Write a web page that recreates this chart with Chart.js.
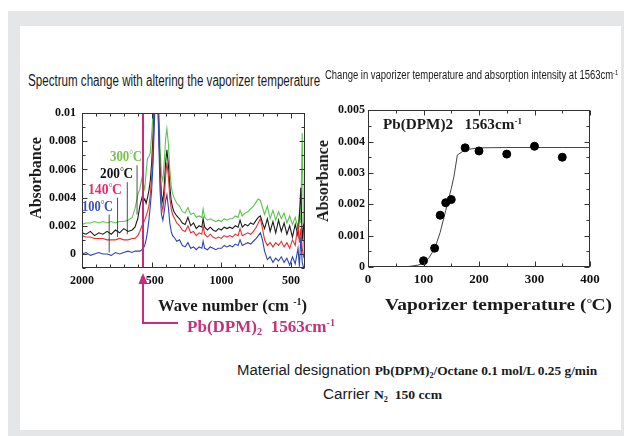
<!DOCTYPE html>
<html lang="en">
<head>
<meta charset="UTF-8" />
<title>Vaporizer temperature and absorbance</title>
<script src="https://cdn.jsdelivr.net/npm/chart.js"></script>
<style>
  body {
    margin: 0;
    width: 624px;
    height: 436px;
    position: relative;
    overflow: hidden;
    background: #fff;
    font-family: 'Liberation Sans', Arial, sans-serif;
  }
  #frame { position: absolute; left: 8px; top: 11px; width: 616px; height: 425px; background: #e5e6e8; }
  #panel { position: absolute; left: 20px; top: 26px; width: 601px; height: 404px; background: #fff; }
  canvas { position: absolute; }
  .t {
    position: absolute;
    white-space: nowrap;
    line-height: 1;
    transform-origin: 0 50%;
    transform: translateY(-50%);
    color: #1a1a1a;
  }
  .serif { font-family: 'Liberation Serif', 'Times New Roman', serif; font-weight: bold; }
  .sup { font-size: 0.6em; position: relative; top: -0.6em; }
  .sub { font-size: 0.6em; position: relative; top: 0.35em; }
  .rot { transform-origin: 50% 50%; transform: translate(-50%, -50%) rotate(-90deg); }
  .deg { font-weight: normal; font-size: 0.75em; position: relative; top: -0.25em; letter-spacing: -0.05em; }
</style>
</head>
<body>
  <div id="frame"></div>
  <div id="panel"></div>

  <canvas id="specChart" width="320" height="250" style="left:0;top:100px"></canvas>
  <canvas id="tempChart" width="324" height="250" style="left:300px;top:100px"></canvas>

  <div class="t" data-w="292" style="left:28px;top:81px;font-size:16px">Spectrum change with altering the vaporizer temperature</div>
  <div class="t" data-w="293" style="left:325px;top:75px;font-size:12.5px">Change in vaporizer temperature and absorption intensity at 1563cm<span class="sup">-1</span></div>

  <div class="t serif rot" style="left:36px;top:178px;font-size:16px">Absorbance</div>
  <div class="t serif rot" style="left:323px;top:181px;font-size:16px">Absorbance</div>

  <div class="t serif" data-w="149" style="left:158px;top:305px;font-size:17px">Wave number (cm <span class="sup">-1</span>)</div>
  <div class="t serif" data-w="227" style="left:385px;top:304px;font-size:17px">Vaporizer temperature (<span class="deg">°</span>C)</div>

  <div class="t serif" data-w="148" style="left:187px;top:327px;font-size:16px;color:#c4327a">Pb(DPM)<span class="sub">2</span>&nbsp;&nbsp;1563cm<span class="sup">-1</span></div>
  <div class="t serif" data-w="139" style="left:383px;top:124px;font-size:15px">Pb(DPM)2&nbsp;&nbsp;&nbsp;1563cm<span class="sup">-1</span></div>

  <div class="t serif" data-w="32" style="left:110px;top:157px;font-size:14px;color:#78c24e">300<span class="deg">°</span>C</div>
  <div class="t serif" data-w="33" style="left:100px;top:174px;font-size:14px;color:#111">200<span class="deg">°</span>C</div>
  <div class="t serif" data-w="34" style="left:88px;top:190px;font-size:14px;color:#e0306e">140<span class="deg">°</span>C</div>
  <div class="t serif" data-w="31" style="left:82px;top:207px;font-size:14px;color:#3d4fb5">100<span class="deg">°</span>C</div>

  <div class="t" data-w="360" style="left:237px;top:370px;font-size:14px">Material designation <span class="serif" style="font-size:12.5px">Pb(DPM)<span class="sub">2</span>/Octane 0.1 mol/L 0.25 g/min</span></div>
  <div class="t" data-w="119" style="left:323px;top:394px;font-size:14px">Carrier <span class="serif" style="font-size:12.5px">N<span class="sub">2</span>&nbsp;&nbsp;150 ccm</span></div>

<script>
  // ---- spectrum (left) ----
  const waveNumbers = [
    2000, 1970, 1940, 1910, 1880, 1850, 1820, 1790, 1760, 1730,
    1700, 1670, 1640, 1620, 1600, 1585, 1570, 1560, 1550, 1540,
    1530, 1520, 1510, 1500, 1490, 1480, 1470, 1465, 1460, 1450,
    1440, 1430, 1420, 1410, 1400, 1391, 1380, 1370, 1360, 1350,
    1340, 1320, 1300, 1280, 1260, 1240, 1220, 1200, 1180, 1160,
    1140, 1131, 1120, 1100, 1080, 1060, 1040, 1020, 1000, 980,
    960, 940, 920, 900, 880, 866, 850, 830, 810, 790,
    770, 750, 735, 720, 705, 690, 670, 650, 630, 610,
    590, 570, 550, 530, 510, 490, 470, 450, 440, 430,
    420, 410, 400
  ];
  const abs100 = [
    0.0000, 0.0001, -0.0001, 0.0000, 0.0001, 0.0000, 0.0000, -0.0001, 0.0001, 0.0000,
    0.0001, 0.0002, 0.0001, 0.0002, 0.0002, 0.0002, 0.0003, 0.0004, 0.0006, 0.0010,
    0.0016, 0.0024, 0.0034, 0.0046, 0.0065, 0.0095, 0.0125, 0.0130, 0.0120, 0.0085,
    0.0045, 0.0028, 0.0024, 0.0030, 0.0038, 0.0042, 0.0033, 0.0022, 0.0016, 0.0013,
    0.0012, 0.0009, 0.0010, 0.0006, 0.0005, 0.0008, 0.0004, 0.0005, 0.0003, 0.0005,
    0.0004, 0.0009, 0.0004, 0.0003, 0.0005, 0.0004, 0.0003, 0.0004, 0.0004, 0.0006,
    0.0005, 0.0006, 0.0005, 0.0007, 0.0006, 0.0010, 0.0006, 0.0007, 0.0008, 0.0007,
    0.0009, 0.0011, 0.0013, 0.0015, 0.0010, 0.0002, -0.0004, -0.0002, -0.0006, -0.0003,
    -0.0005, -0.0002, -0.0006, -0.0003, -0.0008, -0.0002, -0.0007, 0.0004, -0.0009, 0.0012,
    -0.0006, -0.0010, -0.0008
  ];
  const abs140 = [
    0.0013, 0.0012, 0.0012, 0.0011, 0.0011, 0.0011, 0.0010, 0.0010, 0.0010, 0.0011,
    0.0010, 0.0010, 0.0011, 0.0011, 0.0013, 0.0016, 0.0020, 0.0022, 0.0024, 0.0027,
    0.0030, 0.0034, 0.0042, 0.0055, 0.0075, 0.0105, 0.0130, 0.0130, 0.0125, 0.0090,
    0.0055, 0.0036, 0.0031, 0.0040, 0.0055, 0.0065, 0.0055, 0.0040, 0.0032, 0.0028,
    0.0026, 0.0022, 0.0020, 0.0017, 0.0016, 0.0020, 0.0015, 0.0016, 0.0013, 0.0015,
    0.0014, 0.0020, 0.0014, 0.0012, 0.0014, 0.0012, 0.0011, 0.0012, 0.0011, 0.0013,
    0.0012, 0.0013, 0.0012, 0.0014, 0.0013, 0.0018, 0.0013, 0.0014, 0.0015, 0.0014,
    0.0016, 0.0019, 0.0022, 0.0025, 0.0018, 0.0010, 0.0006, 0.0008, 0.0005, 0.0008,
    0.0006, 0.0009, 0.0005, 0.0008, 0.0004, 0.0010, 0.0006, 0.0022, 0.0008, 0.0018,
    0.0004, -0.0002, 0.0000
  ];
  const abs200 = [
    0.0015, 0.0014, 0.0016, 0.0013, 0.0015, 0.0014, 0.0016, 0.0014, 0.0017, 0.0015,
    0.0018, 0.0016, 0.0017, 0.0019, 0.0025, 0.0034, 0.0040, 0.0037, 0.0039, 0.0036,
    0.0040, 0.0045, 0.0052, 0.0065, 0.0085, 0.0110, 0.0130, 0.0130, 0.0128, 0.0095,
    0.0062, 0.0042, 0.0037, 0.0048, 0.0065, 0.0074, 0.0063, 0.0048, 0.0038, 0.0033,
    0.0030, 0.0027, 0.0025, 0.0022, 0.0021, 0.0026, 0.0020, 0.0022, 0.0018, 0.0020,
    0.0019, 0.0025, 0.0019, 0.0017, 0.0019, 0.0017, 0.0016, 0.0018, 0.0017, 0.0019,
    0.0018, 0.0019, 0.0018, 0.0020, 0.0019, 0.0024, 0.0019, 0.0021, 0.0020, 0.0022,
    0.0021, 0.0024, 0.0026, 0.0027, 0.0022, 0.0018, 0.0025, 0.0016, 0.0023, 0.0015,
    0.0024, 0.0016, 0.0022, 0.0014, 0.0020, 0.0012, 0.0021, 0.0013, 0.0027, 0.0047,
    0.0010, 0.0020, 0.0016
  ];
  const abs300 = [
    0.0021, 0.0022, 0.0022, 0.0023, 0.0022, 0.0023, 0.0022, 0.0023, 0.0022, 0.0023,
    0.0023, 0.0024, 0.0026, 0.0032, 0.0042, 0.0046, 0.0054, 0.0050, 0.0046, 0.0058,
    0.0068, 0.0069, 0.0072, 0.0085, 0.0100, 0.0120, 0.0130, 0.0130, 0.0130, 0.0110,
    0.0075, 0.0056, 0.0052, 0.0065, 0.0082, 0.0089, 0.0078, 0.0060, 0.0048, 0.0043,
    0.0040, 0.0036, 0.0034, 0.0030, 0.0029, 0.0033, 0.0028, 0.0029, 0.0026, 0.0027,
    0.0026, 0.0032, 0.0026, 0.0024, 0.0025, 0.0024, 0.0023, 0.0024, 0.0023, 0.0025,
    0.0024, 0.0025, 0.0025, 0.0027, 0.0026, 0.0031, 0.0027, 0.0029, 0.0030, 0.0032,
    0.0034, 0.0037, 0.0039, 0.0038, 0.0033, 0.0028, 0.0034, 0.0025, 0.0031, 0.0024,
    0.0030, 0.0025, 0.0029, 0.0022, 0.0027, 0.0021, 0.0026, 0.0018, 0.0030, 0.0022,
    0.0086, 0.0010, -0.0010
  ];
  const specXTicks = [2000, 1500, 1000, 500];
  const specXLabels = ['2000', '1500', '1000', '500'];
  const specYTicks = [0, 0.002, 0.004, 0.006, 0.008, 0.01];
  const specYLabels = ['0', '0.002', '0.004', '0.006', '0.008', '0.01'];
  const markedWave = 1563;
  // label leader lines: [wave number, from absorbance, to absorbance]
  const leaders = [[1605, 0.0063, 0.0028], [1675, 0.0051, 0.0014], [1745, 0.0040, 0.0012], [1805, 0.0028, 0.0001]];

  // ---- temperature (right) ----
  const tempPoints = [100, 120, 130, 140, 150, 175, 200, 250, 300, 350];
  const absPoints = [0.0002, 0.0006, 0.00165, 0.00205, 0.00215, 0.0038, 0.0037, 0.0036, 0.00385, 0.0035];
  const fitTemps = [55, 75, 90, 100, 110, 120, 130, 140, 150, 155, 161, 170, 180, 200, 250, 300, 350, 400];
  const fitAbs = [0, 0.00002, 0.00006, 0.00012, 0.0003, 0.00058, 0.0011, 0.0018, 0.0025, 0.0029, 0.00357, 0.00368, 0.00375, 0.0038, 0.00381, 0.00381, 0.00381, 0.00381];
  const tempXTicks = [0, 100, 200, 300, 400];
  const tempYTicks = [0, 0.001, 0.002, 0.003, 0.004, 0.005];
  const tempYLabels = ['0', '0.001', '0.002', '0.003', '0.004', '0.005'];

  const tickFont = { family: 'Liberation Serif', weight: 'bold', size: 12 };

  function range(from, to, step) {
    const out = [];
    for (let i = 0; from + i * step <= to + 1e-12; i++) out.push(+(from + i * step).toFixed(6));
    return out;
  }

  // frame box with inward tick marks on all four sides
  const boxPlugin = {
    id: 'box',
    afterDraw(chart, args, o) {
      const { ctx, chartArea: a } = chart;
      const x = chart.scales.x, y = chart.scales.y;
      ctx.save();
      ctx.strokeStyle = '#333';
      ctx.lineWidth = 1;
      const l = Math.round(a.left) + 0.5, t = Math.round(a.top) + 0.5;
      const r = Math.round(a.right) - 0.5, b = Math.round(a.bottom) - 0.5;
      ctx.strokeRect(l, t, r - l, b - t);
      ctx.beginPath();
      const xt = (v, len) => {
        const p = Math.round(x.getPixelForValue(v)) + 0.5;
        ctx.moveTo(p, b); ctx.lineTo(p, b - len);
        ctx.moveTo(p, t); ctx.lineTo(p, t + len);
      };
      const yt = (v, len) => {
        const p = Math.round(y.getPixelForValue(v)) + 0.5;
        ctx.moveTo(l, p); ctx.lineTo(l + len, p);
        ctx.moveTo(r, p); ctx.lineTo(r - len, p);
      };
      o.xMajor.forEach(v => xt(v, 5));
      o.xMinor.forEach(v => xt(v, 3));
      o.yMajor.forEach(v => yt(v, 5));
      o.yMinor.forEach(v => yt(v, 3));
      ctx.stroke();
      ctx.restore();
    }
  };

  // 1563 cm-1 marker, arrow and the label leader lines
  const markPlugin = {
    id: 'mark',
    afterDatasetsDraw(chart) {
      const { ctx, chartArea: a } = chart;
      const x = chart.scales.x, y = chart.scales.y;
      ctx.save();
      ctx.strokeStyle = '#222';
      ctx.lineWidth = 0.8;
      ctx.beginPath();
      leaders.forEach(([w, a1, a2]) => {
        const p = x.getPixelForValue(w);
        ctx.moveTo(p, y.getPixelForValue(a1));
        ctx.lineTo(p, y.getPixelForValue(a2));
      });
      ctx.stroke();

      const px = Math.round(x.getPixelForValue(markedWave));
      ctx.strokeStyle = '#c92a7a';
      ctx.fillStyle = '#c92a7a';
      ctx.lineWidth = 2;
      ctx.beginPath();
      ctx.moveTo(px, a.top);
      ctx.lineTo(px, a.bottom);
      ctx.stroke();
      const tip = a.bottom + 5;
      ctx.beginPath();
      ctx.moveTo(px, tip);
      ctx.lineTo(px - 4.5, tip + 11);
      ctx.lineTo(px + 4.5, tip + 11);
      ctx.closePath();
      ctx.fill();
      ctx.beginPath();
      ctx.moveTo(px, tip + 10);
      ctx.lineTo(px, 223);
      ctx.lineTo(178, 223);
      ctx.stroke();
      ctx.restore();
    }
  };

  const series = [
    { data: abs100, color: '#2b45b0' },
    { data: abs140, color: '#e53030' },
    { data: abs200, color: '#1a1a1a' },
    { data: abs300, color: '#5cc44e' }
  ];

  new Chart(document.getElementById('specChart'), {
    type: 'line',
    data: {
      datasets: series.map(s => ({
        data: waveNumbers.map((w, i) => ({ x: w, y: s.data[i] })),
        borderColor: s.color,
        borderWidth: 1.1,
        pointRadius: 0,
        tension: 0
      }))
    },
    options: {
      responsive: false,
      animation: false,
      events: [],
      layout: { padding: { left: 32, top: 9, right: 15, bottom: 62 } },
      plugins: {
        legend: { display: false },
        tooltip: { enabled: false },
        box: {
          xMajor: specXTicks,
          xMinor: range(500, 1900, 100).filter(v => !specXTicks.includes(v)),
          yMajor: specYTicks,
          yMinor: [-0.001, 0.001, 0.003, 0.005, 0.007, 0.009]
        }
      },
      scales: {
        x: {
          type: 'linear',
          reverse: true,
          min: 400,
          max: 2000,
          afterBuildTicks: s => { s.ticks = specXTicks.map(v => ({ value: v })); },
          afterFit: s => { s.height = 20; },
          grid: { display: false, drawTicks: false },
          border: { display: false },
          ticks: { font: tickFont, color: '#111', padding: 6, maxRotation: 0, autoSkip: false,
                   callback: v => specXLabels[specXTicks.indexOf(v)] }
        },
        y: {
          min: -0.001,
          max: 0.01,
          afterBuildTicks: s => { s.ticks = specYTicks.map(v => ({ value: v })); },
          afterFit: s => { s.width = 50; },
          grid: { display: false, drawTicks: false },
          border: { display: false },
          ticks: { font: tickFont, color: '#111', padding: 6,
                   callback: v => specYLabels[specYTicks.indexOf(v)] }
        }
      }
    },
    plugins: [boxPlugin, markPlugin]
  });

  new Chart(document.getElementById('tempChart'), {
    type: 'scatter',
    data: {
      datasets: [
        {
          data: tempPoints.map((t, i) => ({ x: t, y: absPoints[i] })),
          backgroundColor: '#000',
          borderColor: '#000',
          pointRadius: 4,
          showLine: false
        },
        {
          type: 'line',
          data: fitTemps.map((t, i) => ({ x: t, y: fitAbs[i] })),
          borderColor: '#444',
          borderWidth: 1,
          pointRadius: 0,
          tension: 0
        }
      ]
    },
    options: {
      responsive: false,
      animation: false,
      events: [],
      layout: { padding: { left: 18, top: 9, right: 34, bottom: 63 } },
      plugins: {
        legend: { display: false },
        tooltip: { enabled: false },
        box: {
          xMajor: tempXTicks,
          xMinor: [50, 150, 250, 350],
          yMajor: tempYTicks,
          yMinor: [0.0005, 0.0015, 0.0025, 0.0035, 0.0045]
        }
      },
      scales: {
        x: {
          type: 'linear',
          min: 0,
          max: 400,
          afterBuildTicks: s => { s.ticks = tempXTicks.map(v => ({ value: v })); },
          afterFit: s => { s.height = 20; },
          grid: { display: false, drawTicks: false },
          border: { display: false },
          ticks: { font: { ...tickFont, size: 13 }, color: '#111', padding: 5, maxRotation: 0, autoSkip: false }
        },
        y: {
          min: 0,
          max: 0.005,
          afterBuildTicks: s => { s.ticks = tempYTicks.map(v => ({ value: v })); },
          afterFit: s => { s.width = 50; },
          grid: { display: false, drawTicks: false },
          border: { display: false },
          ticks: { font: tickFont, color: '#111', padding: 3,
                   callback: v => tempYLabels[tempYTicks.indexOf(v)] }
        }
      }
    },
    plugins: [boxPlugin]
  });

  // squeeze the condensed-looking texts to the widths they take in the picture
  document.querySelectorAll('[data-w]').forEach(el => {
    const w = el.getBoundingClientRect().width;
    el.style.transform = 'translateY(-50%) scaleX(' + (el.dataset.w / w).toFixed(3) + ')';
  });
</script>
</body>
</html>
